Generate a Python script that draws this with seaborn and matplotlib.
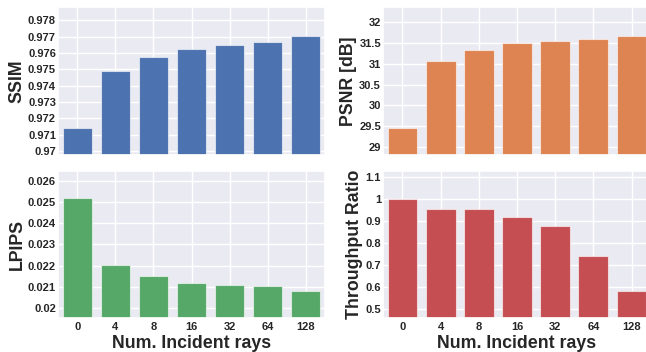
import matplotlib
matplotlib.use("Agg")
import matplotlib.pyplot as plt
import seaborn as sns
import pandas as pd
from matplotlib.ticker import FuncFormatter

sns.set_theme(style="darkgrid")
plt.rcParams['font.family'] = ['Liberation Sans', 'DejaVu Sans']

rays = ["0", "4", "8", "16", "32", "64", "128"]
ssim = [0.97141, 0.97487, 0.97575, 0.97624, 0.97650, 0.97665, 0.97706]
psnr = [29.45, 31.07, 31.34, 31.50, 31.56, 31.60, 31.68]
lpips = [0.02517, 0.02205, 0.02151, 0.02117, 0.02107, 0.02104, 0.02082]
throughput = [1.0, 0.955, 0.956, 0.917, 0.875, 0.740, 0.585]

ssim_ticks = [0.970, 0.971, 0.972, 0.973, 0.974, 0.975, 0.976, 0.977, 0.978]
psnr_ticks = [29, 29.5, 30, 30.5, 31, 31.5, 32]
lpips_ticks = [0.020, 0.021, 0.022, 0.023, 0.024, 0.025, 0.026]
thr_ticks = [0.5, 0.6, 0.7, 0.8, 0.9, 1.0, 1.1]

pal = sns.color_palette("deep")

fig = plt.figure(figsize=(6.46, 3.52), dpi=100)
W, H = 646, 352
def ax_at(l, t, r, b):
    return fig.add_axes([l / W, 1 - b / H, (r - l) / W, (b - t) / H])

axes = [
    ax_at(58, 7, 325, 155),
    ax_at(383, 7, 651, 155),
    ax_at(58, 171, 325, 318),
    ax_at(383, 171, 651, 318),
]
specs = [
    (ssim, "SSIM", pal[0], ssim_ticks, (0.96975, 0.97882)),
    (psnr, "PSNR [dB]", pal[1], psnr_ticks, (28.80, 32.37)),
    (lpips, "LPIPS", pal[2], lpips_ticks, (0.01953, 0.02646)),
    (throughput, "Throughput Ratio", pal[3], thr_ticks, (0.4607, 1.126)),
]

fmt = FuncFormatter(lambda v, p: ("%.4f" % v).rstrip("0").rstrip("."))

for i, (ax, (vals, lab, col, ticks, ylim)) in enumerate(zip(axes, specs)):
    df = pd.DataFrame({"rays": rays, "val": vals})
    sns.barplot(data=df, x="rays", y="val", color=col, ax=ax, width=0.78,
                edgecolor=(1, 1, 1, 0.6), linewidth=0.8, saturation=1)
    ax.set_ylim(*ylim)
    ax.set_xlim(-0.51, 6.51)
    ax.set_yticks(ticks)
    ax.yaxis.set_major_formatter(fmt)
    ax.set_ylabel(lab, fontsize=12.8, fontweight="bold", labelpad=1.5)
    ax.tick_params(axis="y", labelsize=8, pad=1.5, length=0)
    ax.tick_params(axis="x", labelsize=8, pad=3.2, length=0)
    for t in ax.get_yticklabels() + ax.get_xticklabels():
        t.set_fontweight("bold")
        t.set_color("#262626")
    if i < 2:
        ax.set_xticklabels([])
        ax.set_xlabel("")
    else:
        ax.set_xlabel("Num. Incident rays", fontsize=12.8, fontweight="bold", labelpad=1.5)
    ax.grid(True, color="white", linewidth=1)

fig.savefig("out.png", dpi=100)
